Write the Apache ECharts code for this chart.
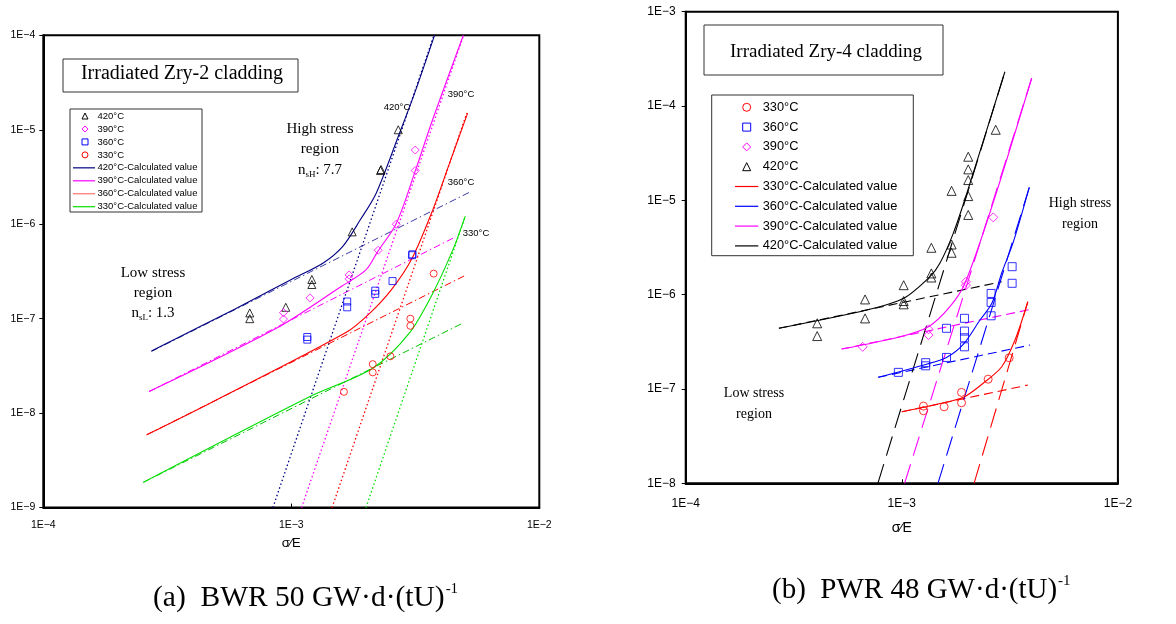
<!DOCTYPE html>
<html>
<head>
<meta charset="utf-8">
<title>Creep rate of irradiated Zircaloy cladding</title>
<script src="https://cdn.jsdelivr.net/npm/echarts/dist/echarts.min.js"></script>
<style>
  html, body { margin: 0; padding: 0; background: #fff; }
  .pane { position: absolute; left: 0; top: 0; width: 1176px; height: 624px; }
</style>
</head>
<body>
<div id="bwr" class="pane"></div>
<div id="pwr" class="pane"></div>
<script>
// ---------- tick labels ----------
const bwrXTicks = ['1E\u22124', '1E\u22123', '1E\u22122'];
const bwrYTicks = ['1E\u22129', '1E\u22128', '1E\u22127', '1E\u22126', '1E\u22125', '1E\u22124'];
const pwrXTicks = ['1E\u22124', '1E\u22123', '1E\u22122'];
const pwrYTicks = ['1E\u22128', '1E\u22127', '1E\u22126', '1E\u22125', '1E\u22124', '1E\u22123'];

// ---------- (a) BWR 50 GW·d·(tU)^-1, measured [sigma/E, rate] ----------
const bwr420 = [[6.8e-4,1.15e-7],[6.8e-4,1.0e-7],[9.5e-4,1.32e-7],[1.21e-3,2.6e-7],[1.21e-3,2.3e-7],
                [1.76e-3,8.3e-7],[2.29e-3,3.7e-6],[2.3e-3,3.8e-6],[2.7e-3,1.0e-5]];
const bwr390 = [[9.3e-4,1.16e-7],[9.3e-4,9.9e-8],[1.19e-3,1.66e-7],[1.71e-3,2.9e-7],[1.71e-3,2.64e-7],
                [2.24e-3,5.3e-7],[2.65e-3,1.0e-6],[3.16e-3,3.7e-6],[3.16e-3,6.1e-6]];
const bwr360 = [[1.16e-3,6.4e-8],[1.16e-3,6.0e-8],[1.68e-3,1.52e-7],[1.68e-3,1.32e-7],[2.18e-3,1.98e-7],
                [2.18e-3,1.83e-7],[2.56e-3,2.5e-7],[3.07e-3,4.7e-7],[3.08e-3,4.8e-7]];
const bwr330 = [[1.63e-3,1.68e-8],[2.13e-3,3.3e-8],[2.13e-3,2.7e-8],[2.51e-3,4.0e-8],[3.02e-3,1.0e-7],
                [3.02e-3,8.4e-8],[3.75e-3,3.0e-7]];

// calculated values (solid)
const bwrCalc420 = [[2.73e-4,4.56e-8],[5.91e-4,1.26e-7],[1.0e-3,2.6e-7],[1.34e-3,3.87e-7],[1.61e-3,5.79e-7],
                    [1.9e-3,1.12e-6],[2.2e-3,2.13e-6],[2.73e-3,9.18e-6],[3.14e-3,2.43e-5],[3.78e-3,1.0e-4]];
const bwrCalc390 = [[2.67e-4,1.69e-8],[8.7e-4,7.9e-8],[1.59e-3,2.19e-7],[2.0e-3,3.28e-7],[2.23e-3,5.13e-7],
                    [2.65e-3,1.02e-6],[3.14e-3,3.47e-6],[3.71e-3,1.27e-5],[4.94e-3,1.0e-4]];
const bwrCalc360 = [[2.61e-4,5.89e-9],[4.99e-4,1.38e-8],[1.66e-3,7.13e-8],[2.07e-3,1.14e-7],[2.53e-3,2.02e-7],
                    [3.07e-3,4.37e-7],[3.72e-3,1.42e-6],[4.3e-3,4.1e-6],[5.14e-3,1.5e-5]];
const bwrCalc330 = [[2.53e-4,1.85e-9],[1.19e-3,1.5e-8],[2.13e-3,2.99e-8],[2.99e-3,7.03e-8],[3.72e-3,1.86e-7],
                    [4.48e-3,5.35e-7],[5.03e-3,1.22e-6]];

// low-stress component (dash-dot) and high-stress component (dotted)
const bwrLow420 = [[2.73e-4,4.5e-8],[5.23e-3,2.18e-6]];
const bwrLow390 = [[2.67e-4,1.69e-8],[4.62e-3,7.39e-7]];
const bwrLow360 = [[2.61e-4,5.89e-9],[4.99e-3,2.84e-7]];
const bwrLow330 = [[2.53e-4,1.85e-9],[4.91e-3,8.96e-8]];
const bwrHigh420 = [[8.43e-4,1e-9],[3.76e-3,1e-4]];
const bwrHigh390 = [[1.10e-3,1e-9],[4.95e-3,1e-4]];
const bwrHigh360 = [[1.46e-3,1e-9],[5.1e-3,1.5e-5]];
const bwrHigh330 = [[2.0e-3,1e-9],[5.03e-3,1.22e-6]];

// ---------- (b) PWR 48 GW·d·(tU)^-1 ----------
const pwr330 = [[1.26e-3,6.59e-8],[1.26e-3,5.88e-8],[1.57e-3,6.47e-8],[1.89e-3,9.2e-8],[1.89e-3,7.14e-8],
                [2.51e-3,1.27e-7],[3.14e-3,2.14e-7]];
const pwr360 = [[9.64e-4,1.5e-7],[1.29e-3,1.9e-7],[1.29e-3,1.76e-7],[1.61e-3,2.16e-7],[1.61e-3,4.4e-7],
                [1.95e-3,5.61e-7],[1.95e-3,4.11e-7],[1.95e-3,3.49e-7],[1.95e-3,2.8e-7],[2.59e-3,1.03e-6],
                [2.59e-3,8.28e-7],[2.59e-3,5.97e-7],[3.24e-3,1.32e-6],[3.24e-3,1.98e-6]];
const pwr390 = [[6.59e-4,2.8e-7],[1.33e-3,4.29e-7],[1.33e-3,3.73e-7],[1.98e-3,1.37e-6],[1.98e-3,1.26e-6],
                [2.65e-3,6.6e-6]];
const pwr420 = [[4.06e-4,4.97e-7],[4.06e-4,3.64e-7],[6.76e-4,8.9e-7],[6.76e-4,5.6e-7],[1.02e-3,1.26e-6],
                [1.02e-3,8.55e-7],[1.02e-3,7.9e-7],[1.37e-3,3.14e-6],[1.37e-3,1.68e-6],[1.37e-3,1.52e-6],
                [1.70e-3,1.26e-5],[1.70e-3,3.4e-6],[1.70e-3,2.78e-6],[2.03e-3,2.9e-5],[2.03e-3,2.13e-5],
                [2.03e-3,1.64e-5],[2.03e-3,1.11e-5],[2.03e-3,7.0e-6],[2.72e-3,5.6e-5]];

const pwrCalc330 = [[1.0e-3,5.73e-8],[1.56e-3,7.14e-8],[1.93e-3,8.15e-8],[2.38e-3,1.15e-7],[2.90e-3,1.72e-7],
                    [3.34e-3,3.30e-7],[3.83e-3,8.41e-7]];
const pwrCalc360 = [[7.78e-4,1.33e-7],[1.29e-3,1.82e-7],[1.61e-3,2.16e-7],[1.93e-3,2.99e-7],[2.30e-3,5.38e-7],
                    [2.61e-3,8.09e-7],[2.90e-3,1.7e-6],[3.28e-3,3.6e-6],[3.89e-3,1.37e-5]];
const pwrCalc390 = [[5.27e-4,2.65e-7],[9.82e-4,3.58e-7],[1.33e-3,4.57e-7],[1.67e-3,7.45e-7],[1.96e-3,1.32e-6],
                    [2.61e-3,8.55e-6],[3.99e-3,1.97e-4]];
const pwrCalc420 = [[2.70e-4,4.4e-7],[6.88e-4,6.87e-7],[1.02e-3,9.14e-7],[1.35e-3,1.55e-6],[1.50e-3,2.15e-6],
                    [1.73e-3,4.47e-6],[2.0e-3,1.19e-5],[3.0e-3,2.31e-4]];

// low-stress component (dashed) and high-stress component (long dash)
const pwrLow330 = [[1.0e-3,5.73e-8],[3.83e-3,1.10e-7]];
const pwrLow360 = [[7.78e-4,1.33e-7],[3.92e-3,2.92e-7]];
const pwrLow390 = [[5.27e-4,2.65e-7],[3.99e-3,7.03e-7]];
const pwrLow420 = [[2.70e-4,4.4e-7],[2.90e-3,1.37e-6]];
const pwrHigh330 = [[2.16e-3,1e-8],[3.83e-3,8.41e-7]];
const pwrHigh360 = [[1.47e-3,1e-8],[3.89e-3,1.37e-5]];
const pwrHigh390 = [[1.03e-3,1e-8],[3.99e-3,1.97e-4]];
const pwrHigh420 = [[7.75e-4,1e-8],[3.0e-3,2.31e-4]];

// legend entries
const bwrLegendNames = ['420\u00B0C', '390\u00B0C', '360\u00B0C', '330\u00B0C',
  '420\u00B0C-Calculated value', '390\u00B0C-Calculated value',
  '360\u00B0C-Calculated value', '330\u00B0C-Calculated value'];
const pwrLegendNames = ['330\u00B0C', '360\u00B0C', '390\u00B0C', '420\u00B0C',
  '330\u00B0C-Calculated value', '360\u00B0C-Calculated value',
  '390\u00B0C-Calculated value', '420\u00B0C-Calculated value'];

// ---------- helpers ----------
const SANS = '"Liberation Sans", Arial, sans-serif';
const SERIF = '"Liberation Serif", "Times New Roman", serif';

function pointSeries(name, data, symbol, color, size) {
  return {
    name, type: 'scatter', data, symbol, symbolSize: size, z: 5, silent: true,
    itemStyle: { color: 'rgba(255,255,255,0)', borderColor: color, borderWidth: 1 }
  };
}
function lineSeries(name, data, color, width, dash, smooth) {
  return {
    name, type: 'line', data, symbol: 'none', showSymbol: false, smooth: smooth || 0,
    z: 3, silent: true,
    lineStyle: { color, width, type: dash || 'solid' }, itemStyle: { color }
  };
}
function logLabel(ticks, minExp) {
  return v => ticks[Math.round(Math.log10(v)) - minExp] || '';
}
function txt(x, y, text, size, family, align) {
  return { type: 'text', x, y, silent: true, z: 20,
    style: { text, fontSize: size, fontFamily: family, fill: '#000', align: align || 'center', verticalAlign: 'middle' } };
}
function richTxt(x, y, text, rich, align) {
  return { type: 'text', x, y, silent: true, z: 20,
    style: { text, rich, fill: '#000', align: align || 'center', verticalAlign: 'middle' } };
}
// small marker glyph for the legend box
function glyph(kind, cx, cy, s, color) {
  const style = { fill: 'none', stroke: color, lineWidth: 1 };
  const h = s / 2;
  if (kind === 'circle') return { type: 'circle', shape: { cx, cy, r: h }, style, silent: true, z: 21 };
  if (kind === 'rect') return { type: 'rect', shape: { x: cx - h, y: cy - h, width: s, height: s }, style, silent: true, z: 21 };
  if (kind === 'diamond') return { type: 'polygon', shape: { points: [[cx, cy - h], [cx + h, cy], [cx, cy + h], [cx - h, cy]] }, style, silent: true, z: 21 };
  return { type: 'polygon', shape: { points: [[cx, cy - h], [cx + h, cy + h], [cx - h, cy + h]] }, style, silent: true, z: 21 };
}
// boxed legend: entries are {name, marker?, color}
function legendBox(box, entries, o) {
  const els = [{ type: 'rect', shape: box, silent: true, z: 19, style: { fill: '#fff', stroke: '#333', lineWidth: 1 } }];
  entries.forEach((e, i) => {
    const cy = o.y0 + i * o.dy;
    if (e.marker) els.push(glyph(e.marker, o.mx, cy, o.ms, e.color));
    else els.push({ type: 'line', silent: true, z: 21, shape: { x1: o.lx1, y1: cy, x2: o.lx2, y2: cy },
                    style: { stroke: e.color, lineWidth: 1.2 } });
    els.push(txt(o.tx, cy, e.name, o.fs, SANS, 'left'));
  });
  return els;
}
function axisPair(xTicks, xMin, xMax, yTicks, yMin, yMax, lblSize, xMargin, yMargin, nameSize, nameGap) {
  return {
    xAxis: {
      type: 'log', logBase: 10, min: xMin, max: xMax,
      name: '\u03C3\u2215E', nameLocation: 'middle', nameGap,
      nameTextStyle: { fontFamily: SANS, fontSize: nameSize, color: '#000' },
      axisLine: { show: true, lineStyle: { color: '#000', width: 2 } },
      axisTick: { show: true, inside: true, length: 4, lineStyle: { color: '#000', width: 1 } },
      minorTick: { show: false }, splitLine: { show: false },
      axisLabel: { formatter: logLabel(xTicks, Math.round(Math.log10(xMin))), fontFamily: SANS,
                   fontSize: lblSize, color: '#000', margin: xMargin, showMinLabel: true, showMaxLabel: true }
    },
    yAxis: {
      type: 'log', logBase: 10, min: yMin, max: yMax,
      axisLine: { show: true, lineStyle: { color: '#000', width: 2 } },
      axisTick: { show: true, inside: false, length: 4, lineStyle: { color: '#000', width: 1 } },
      minorTick: { show: false }, splitLine: { show: false },
      axisLabel: { formatter: logLabel(yTicks, Math.round(Math.log10(yMin))), fontFamily: SANS,
                   fontSize: lblSize, color: '#000', margin: yMargin, showMinLabel: true, showMaxLabel: true }
    }
  };
}

// ---------- (a) BWR ----------
const NAVY = '#000080', MAG = '#ff00ff', RED = '#ff0000', GREEN = '#00e000', BLUE = '#0000ff', BLACK = '#000000';
const bwrAxes = axisPair(bwrXTicks, 1e-4, 1e-2, bwrYTicks, 1e-9, 1e-4, 10.5, 12, 8, 13, 29);
const bwrLegend = legendBox({ x: 70, y: 109, width: 132, height: 103 }, [
  { name: bwrLegendNames[0], marker: 'triangle', color: BLACK },
  { name: bwrLegendNames[1], marker: 'diamond', color: MAG },
  { name: bwrLegendNames[2], marker: 'rect', color: BLUE },
  { name: bwrLegendNames[3], marker: 'circle', color: RED },
  { name: bwrLegendNames[4], color: NAVY },
  { name: bwrLegendNames[5], color: MAG },
  { name: bwrLegendNames[6], color: '#ff7070' },
  { name: bwrLegendNames[7], color: GREEN }
], { y0: 116, dy: 12.96, mx: 85, ms: 6, lx1: 73, lx2: 95, tx: 97.5, fs: 9.5 });

const bwrChart = echarts.init(document.getElementById('bwr'), null, { renderer: 'canvas' });
bwrChart.setOption({
  animation: false,
  backgroundColor: 'transparent',
  grid: { left: 43.3, top: 35.3, width: 496, height: 472.3, show: true, borderColor: '#000', borderWidth: 2,
          backgroundColor: 'transparent', containLabel: false, outerBoundsMode: 'none' },
  xAxis: bwrAxes.xAxis,
  yAxis: bwrAxes.yAxis,
  series: [
    lineSeries('low420', bwrLow420, '#3a3aa0', 1, [7, 3, 1.5, 3]),
    lineSeries('low390', bwrLow390, MAG, 1, [7, 3, 1.5, 3]),
    lineSeries('low360', bwrLow360, RED, 1, [7, 3, 1.5, 3]),
    lineSeries('low330', bwrLow330, '#00c000', 1, [7, 3, 1.5, 3]),
    lineSeries('high420', bwrHigh420, NAVY, 1.3, [1.5, 2.5]),
    lineSeries('high390', bwrHigh390, MAG, 1.3, [1.5, 2.5]),
    lineSeries('high360', bwrHigh360, RED, 1.3, [1.5, 2.5]),
    lineSeries('high330', bwrHigh330, GREEN, 1.3, [1.5, 2.5]),
    lineSeries(bwrLegendNames[4], bwrCalc420, NAVY, 1.1, 'solid', 0.3),
    lineSeries(bwrLegendNames[5], bwrCalc390, MAG, 1.1, 'solid', 0.3),
    lineSeries(bwrLegendNames[6], bwrCalc360, RED, 1.1, 'solid', 0.3),
    lineSeries(bwrLegendNames[7], bwrCalc330, GREEN, 1.1, 'solid', 0.3),
    pointSeries(bwrLegendNames[0], bwr420, 'triangle', BLACK, 8),
    pointSeries(bwrLegendNames[1], bwr390, 'diamond', MAG, 8),
    pointSeries(bwrLegendNames[2], bwr360, 'rect', BLUE, 7),
    pointSeries(bwrLegendNames[3], bwr330, 'circle', RED, 7)
  ],
  graphic: [
    { type: 'rect', shape: { x: 63, y: 59, width: 235, height: 33 }, silent: true, z: 19,
      style: { fill: '#fff', stroke: '#333', lineWidth: 1 } },
    txt(182, 74, 'Irradiated Zry-2 cladding', 20, SERIF),
    ...bwrLegend,
    txt(397, 107, '420\u00B0C', 9.5, SANS),
    txt(461, 94, '390\u00B0C', 9.5, SANS),
    txt(461, 182, '360\u00B0C', 9.5, SANS),
    txt(476, 233, '330\u00B0C', 9.5, SANS),
    txt(320, 129, 'High stress', 15, SERIF),
    txt(320, 149, 'region', 15, SERIF),
    richTxt(320, 170, '{n|n}{s|sH}{n|: 7.7}', {
      n: { fontSize: 15, fontFamily: SERIF },
      s: { fontSize: 9, fontFamily: SERIF, padding: [9, 0, 0, 0] } }),
    txt(153, 273, 'Low stress', 15, SERIF),
    txt(153, 293, 'region', 15, SERIF),
    richTxt(153, 313, '{n|n}{s|sL}{n|: 1.3}', {
      n: { fontSize: 15, fontFamily: SERIF },
      s: { fontSize: 9, fontFamily: SERIF, padding: [9, 0, 0, 0] } }),
    richTxt(153, 598, '{m|(a)  BWR 50 GW\u00B7d\u00B7(tU)}{s|-1}', {
      m: { fontSize: 29.5, fontFamily: SERIF },
      s: { fontSize: 15, fontFamily: SERIF, padding: [0, 0, 18, 1] } }, 'left')
  ]
});

// ---------- (b) PWR ----------
const pwrAxes = axisPair(pwrXTicks, 1e-4, 1e-2, pwrYTicks, 1e-8, 1e-3, 12, 14, 10, 14, 38);
const pwrLegend = legendBox({ x: 711.7, y: 95, width: 201.6, height: 160.7 }, [
  { name: pwrLegendNames[0], marker: 'circle', color: RED },
  { name: pwrLegendNames[1], marker: 'rect', color: BLUE },
  { name: pwrLegendNames[2], marker: 'diamond', color: MAG },
  { name: pwrLegendNames[3], marker: 'triangle', color: BLACK },
  { name: pwrLegendNames[4], color: RED },
  { name: pwrLegendNames[5], color: BLUE },
  { name: pwrLegendNames[6], color: MAG },
  { name: pwrLegendNames[7], color: BLACK }
], { y0: 107.3, dy: 19.8, mx: 746.7, ms: 8, lx1: 735, lx2: 758.3, tx: 762.7, fs: 12.8 });

const pwrChart = echarts.init(document.getElementById('pwr'), null, { renderer: 'canvas' });
pwrChart.setOption({
  animation: false,
  backgroundColor: 'transparent',
  grid: { left: 685.7, top: 11.7, width: 432.2, height: 471.6, show: true, borderColor: '#000', borderWidth: 2,
          backgroundColor: 'transparent', containLabel: false, outerBoundsMode: 'none' },
  xAxis: pwrAxes.xAxis,
  yAxis: pwrAxes.yAxis,
  series: [
    lineSeries('low330', pwrLow330, RED, 1.1, [9, 5]),
    lineSeries('low360', pwrLow360, BLUE, 1.1, [9, 5]),
    lineSeries('low390', pwrLow390, MAG, 1.1, [9, 5]),
    lineSeries('low420', pwrLow420, BLACK, 1.1, [9, 5]),
    lineSeries('high330', pwrHigh330, RED, 1.1, [20, 9]),
    lineSeries('high360', pwrHigh360, BLUE, 1.1, [20, 9]),
    lineSeries('high390', pwrHigh390, MAG, 1.1, [20, 9]),
    lineSeries('high420', pwrHigh420, BLACK, 1.1, [20, 9]),
    lineSeries(pwrLegendNames[4], pwrCalc330, RED, 1.1, 'solid', 0.3),
    lineSeries(pwrLegendNames[5], pwrCalc360, BLUE, 1.1, 'solid', 0.3),
    lineSeries(pwrLegendNames[6], pwrCalc390, MAG, 1.1, 'solid', 0.3),
    lineSeries(pwrLegendNames[7], pwrCalc420, BLACK, 1.1, 'solid', 0.3),
    pointSeries(pwrLegendNames[0], pwr330, 'circle', RED, 8),
    pointSeries(pwrLegendNames[1], pwr360, 'rect', BLUE, 8),
    pointSeries(pwrLegendNames[2], pwr390, 'diamond', MAG, 9),
    pointSeries(pwrLegendNames[3], pwr420, 'triangle', BLACK, 9)
  ],
  graphic: [
    { type: 'rect', shape: { x: 704, y: 25, width: 239, height: 50 }, silent: true, z: 19,
      style: { fill: '#fff', stroke: '#333', lineWidth: 1 } },
    txt(826, 52, 'Irradiated Zry-4 cladding', 19, SERIF),
    ...pwrLegend,
    txt(1080, 203, 'High stress', 14, SERIF),
    txt(1080, 224, 'region', 14, SERIF),
    txt(754, 393, 'Low stress', 14, SERIF),
    txt(754, 414, 'region', 14, SERIF),
    richTxt(772, 590, '{m|(b)  PWR 48 GW\u00B7d\u00B7(tU)}{s|-1}', {
      m: { fontSize: 29, fontFamily: SERIF },
      s: { fontSize: 15, fontFamily: SERIF, padding: [0, 0, 18, 1] } }, 'left')
  ]
});
</script>
</body>
</html>
